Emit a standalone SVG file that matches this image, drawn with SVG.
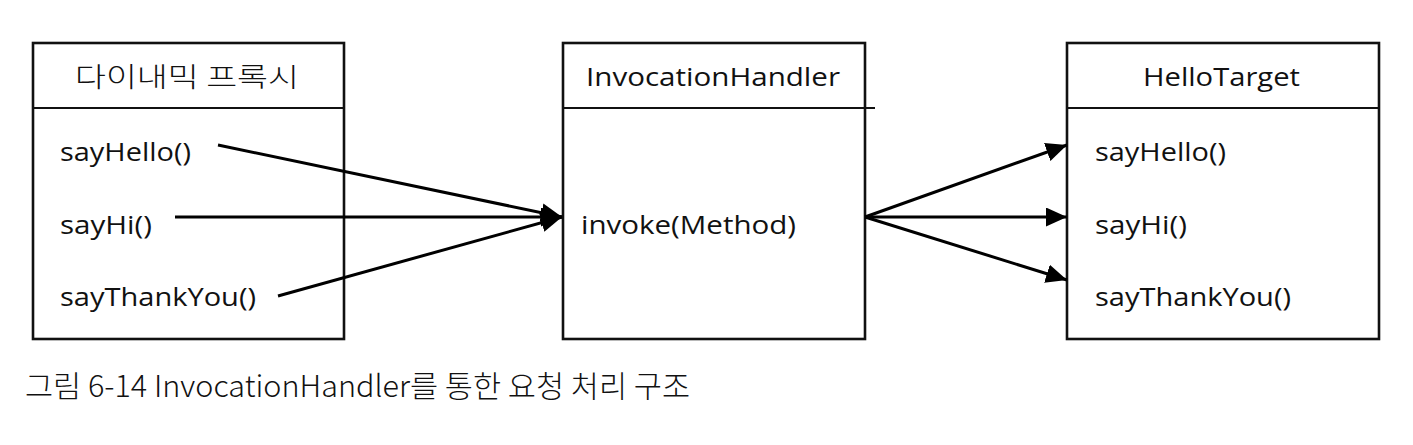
<svg xmlns="http://www.w3.org/2000/svg" width="1413" height="445" viewBox="0 0 1413 445">
<style>
.box{fill:#fff;stroke:#111;stroke-width:2.6}
.div{stroke:#111;stroke-width:2}
.t{font-family:"Open Sans","Noto Sans CJK KR",sans-serif;font-size:26px;fill:#111}
.k{font-family:"Noto Sans CJK KR",sans-serif;font-size:27px;font-weight:300;fill:#111}
.c{font-family:"Noto Sans CJK KR","Noto Sans",sans-serif;font-size:30px;font-weight:300;fill:#111}
.ln{stroke:#000;stroke-width:3;fill:none}
</style>
<defs>
<marker id="ah" markerUnits="userSpaceOnUse" markerWidth="22" markerHeight="20" refX="21" refY="9.5" orient="auto">
<path d="M0,0 L21,9.5 L0,19 Z" fill="#000"/>
</marker>
</defs>
<rect width="1413" height="445" fill="#fff"/>
<g id="proxy">
<rect class="box" x="33" y="43" width="311" height="296"/>
<line class="div" x1="33" y1="108" x2="344" y2="108"/>
<text class="k" x="75" y="87" textLength="224" lengthAdjust="spacingAndGlyphs">다이내믹 프록시</text>
<text class="t" x="60" y="161" textLength="131" lengthAdjust="spacingAndGlyphs">sayHello()</text>
<text class="t" x="60" y="234" textLength="92" lengthAdjust="spacingAndGlyphs">sayHi()</text>
<text class="t" x="60" y="306" textLength="196" lengthAdjust="spacingAndGlyphs">sayThankYou()</text>
</g>
<g id="handler">
<rect class="box" x="563" y="43" width="302" height="296"/>
<line class="div" x1="563" y1="108" x2="875" y2="108"/>
<text class="t" x="586" y="86" textLength="254" lengthAdjust="spacingAndGlyphs">InvocationHandler</text>
<text class="t" x="581" y="234" textLength="215" lengthAdjust="spacingAndGlyphs">invoke(Method)</text>
</g>
<g id="target">
<rect class="box" x="1067" y="43" width="312" height="296"/>
<line class="div" x1="1067" y1="108" x2="1379" y2="108"/>
<text class="t" x="1143" y="86" textLength="157" lengthAdjust="spacingAndGlyphs">HelloTarget</text>
<text class="t" x="1095" y="161" textLength="131" lengthAdjust="spacingAndGlyphs">sayHello()</text>
<text class="t" x="1095" y="234" textLength="92" lengthAdjust="spacingAndGlyphs">sayHi()</text>
<text class="t" x="1095" y="306" textLength="196" lengthAdjust="spacingAndGlyphs">sayThankYou()</text>
</g>
<g id="connectors">
<line class="ln" x1="218" y1="145" x2="562" y2="217" marker-end="url(#ah)"/>
<line class="ln" x1="175" y1="217" x2="562" y2="217" marker-end="url(#ah)"/>
<line class="ln" x1="278" y1="296" x2="562" y2="217" marker-end="url(#ah)"/>
<line class="ln" x1="865" y1="217" x2="1067" y2="145" marker-end="url(#ah)"/>
<line class="ln" x1="865" y1="217" x2="1067" y2="217" marker-end="url(#ah)"/>
<line class="ln" x1="865" y1="217" x2="1067" y2="280" marker-end="url(#ah)"/>
</g>
<text class="c" x="25" y="397" textLength="665" lengthAdjust="spacingAndGlyphs">그림 6-14 InvocationHandler를 통한 요청 처리 구조</text>
</svg>
